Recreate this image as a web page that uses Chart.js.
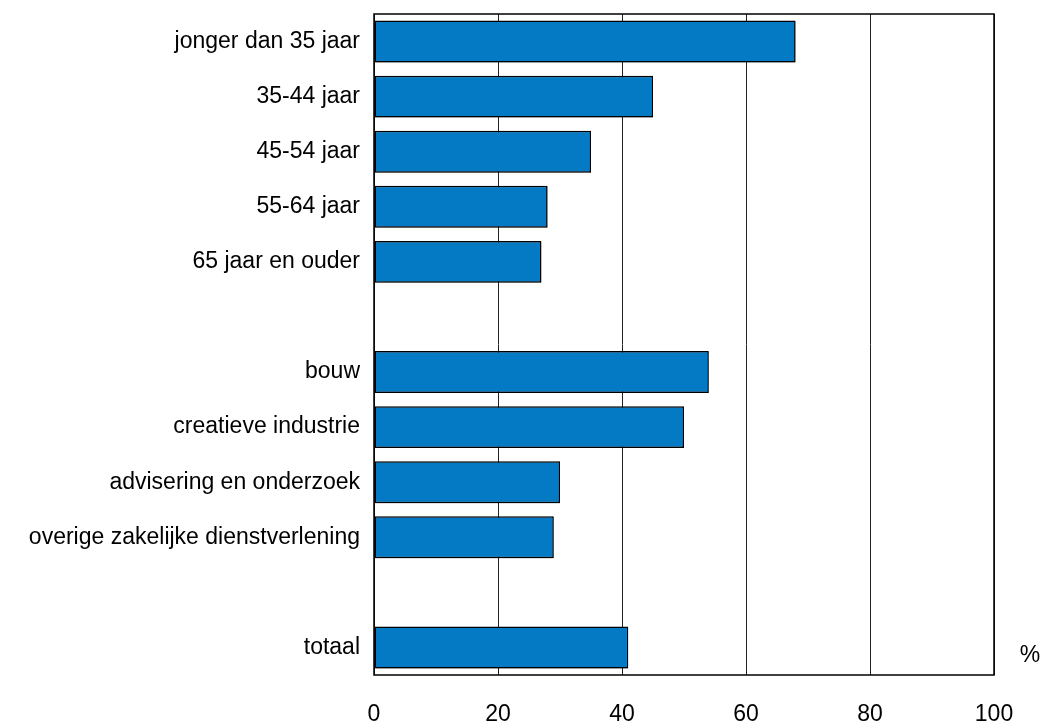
<!DOCTYPE html>
<html>
<head>
<meta charset="utf-8">
<script src="https://cdn.jsdelivr.net/npm/chart.js@4/dist/chart.umd.min.js"></script>
<style>
html,body{margin:0;padding:0;background:#fff;}
#wrap{width:1047px;height:722px;position:relative;}
</style>
</head>
<body>
<div id="wrap"><canvas id="c" width="1047" height="722"></canvas></div>
<script>
const categories = [
  "jonger dan 35 jaar",
  "35-44 jaar",
  "45-54 jaar",
  "55-64 jaar",
  "65 jaar en ouder",
  "",
  "bouw",
  "creatieve industrie",
  "advisering en onderzoek",
  "overige zakelijke dienstverlening",
  "",
  "totaal"
];
const values = [68, 45, 35, 28, 27, null, 54, 50, 30, 29, null, 41];
const xTicks = [0, 20, 40, 60, 80, 100];
const unitLabel = "%";

const FONT = "'Liberation Sans', Arial, sans-serif";
const FS = 23;

const boxPlugin = {
  id: 'box',
  beforeDatasetsDraw(chart) {
    const ctx = chart.ctx;
    ctx.save();
    ctx.shadowColor = 'rgba(0,0,0,0.35)';
    ctx.shadowOffsetX = 1;
    ctx.shadowOffsetY = 1;
    ctx.shadowBlur = 1;
  },
  afterDatasetsDraw(chart) {
    const ctx = chart.ctx;
    ctx.restore();
    const a = chart.chartArea;
    ctx.save();
    ctx.strokeStyle = '#000';
    ctx.lineWidth = 1.5;
    ctx.strokeRect(a.left, a.top, a.right - a.left, a.bottom - a.top);
    ctx.fillStyle = '#000';
    ctx.font = FS + "px " + FONT;
    ctx.textAlign = 'center';
    ctx.textBaseline = 'middle';
    ctx.fillText(unitLabel, 1030, 656);
    ctx.restore();
  }
};

new Chart(document.getElementById('c'), {
  type: 'bar',
  data: {
    labels: categories,
    datasets: [{
      data: values,
      backgroundColor: '#0479c4',
      borderColor: '#000',
      borderWidth: 1.5,
      borderSkipped: false,
      barPercentage: 0.76,
      categoryPercentage: 1.0
    }]
  },
  options: {
    indexAxis: 'y',
    responsive: false,
    animation: false,
    layout: { padding: { top: 14, right: 53, left: 0, bottom: 0 } },
    plugins: { legend: { display: false }, tooltip: { enabled: false } },
    scales: {
      x: {
        min: 0, max: 100,
        afterBuildTicks(axis) { axis.ticks = xTicks.map(v => ({ value: v })); },
        afterFit(axis) { axis.height = 47; },
        grid: { color: '#222', lineWidth: 1, drawTicks: false },
        border: { display: false },
        ticks: { padding: 26, color: '#000', font: { size: FS, family: FONT } }
      },
      y: {
        afterFit(axis) { axis.width = 374; axis.paddingTop = 0; axis.paddingBottom = 0; },
        grid: { display: false, drawTicks: false },
        border: { display: false },
        ticks: { padding: 14, color: '#000', font: { size: FS, family: FONT }, autoSkip: false }
      }
    }
  },
  plugins: [boxPlugin]
});
</script>
</body>
</html>
